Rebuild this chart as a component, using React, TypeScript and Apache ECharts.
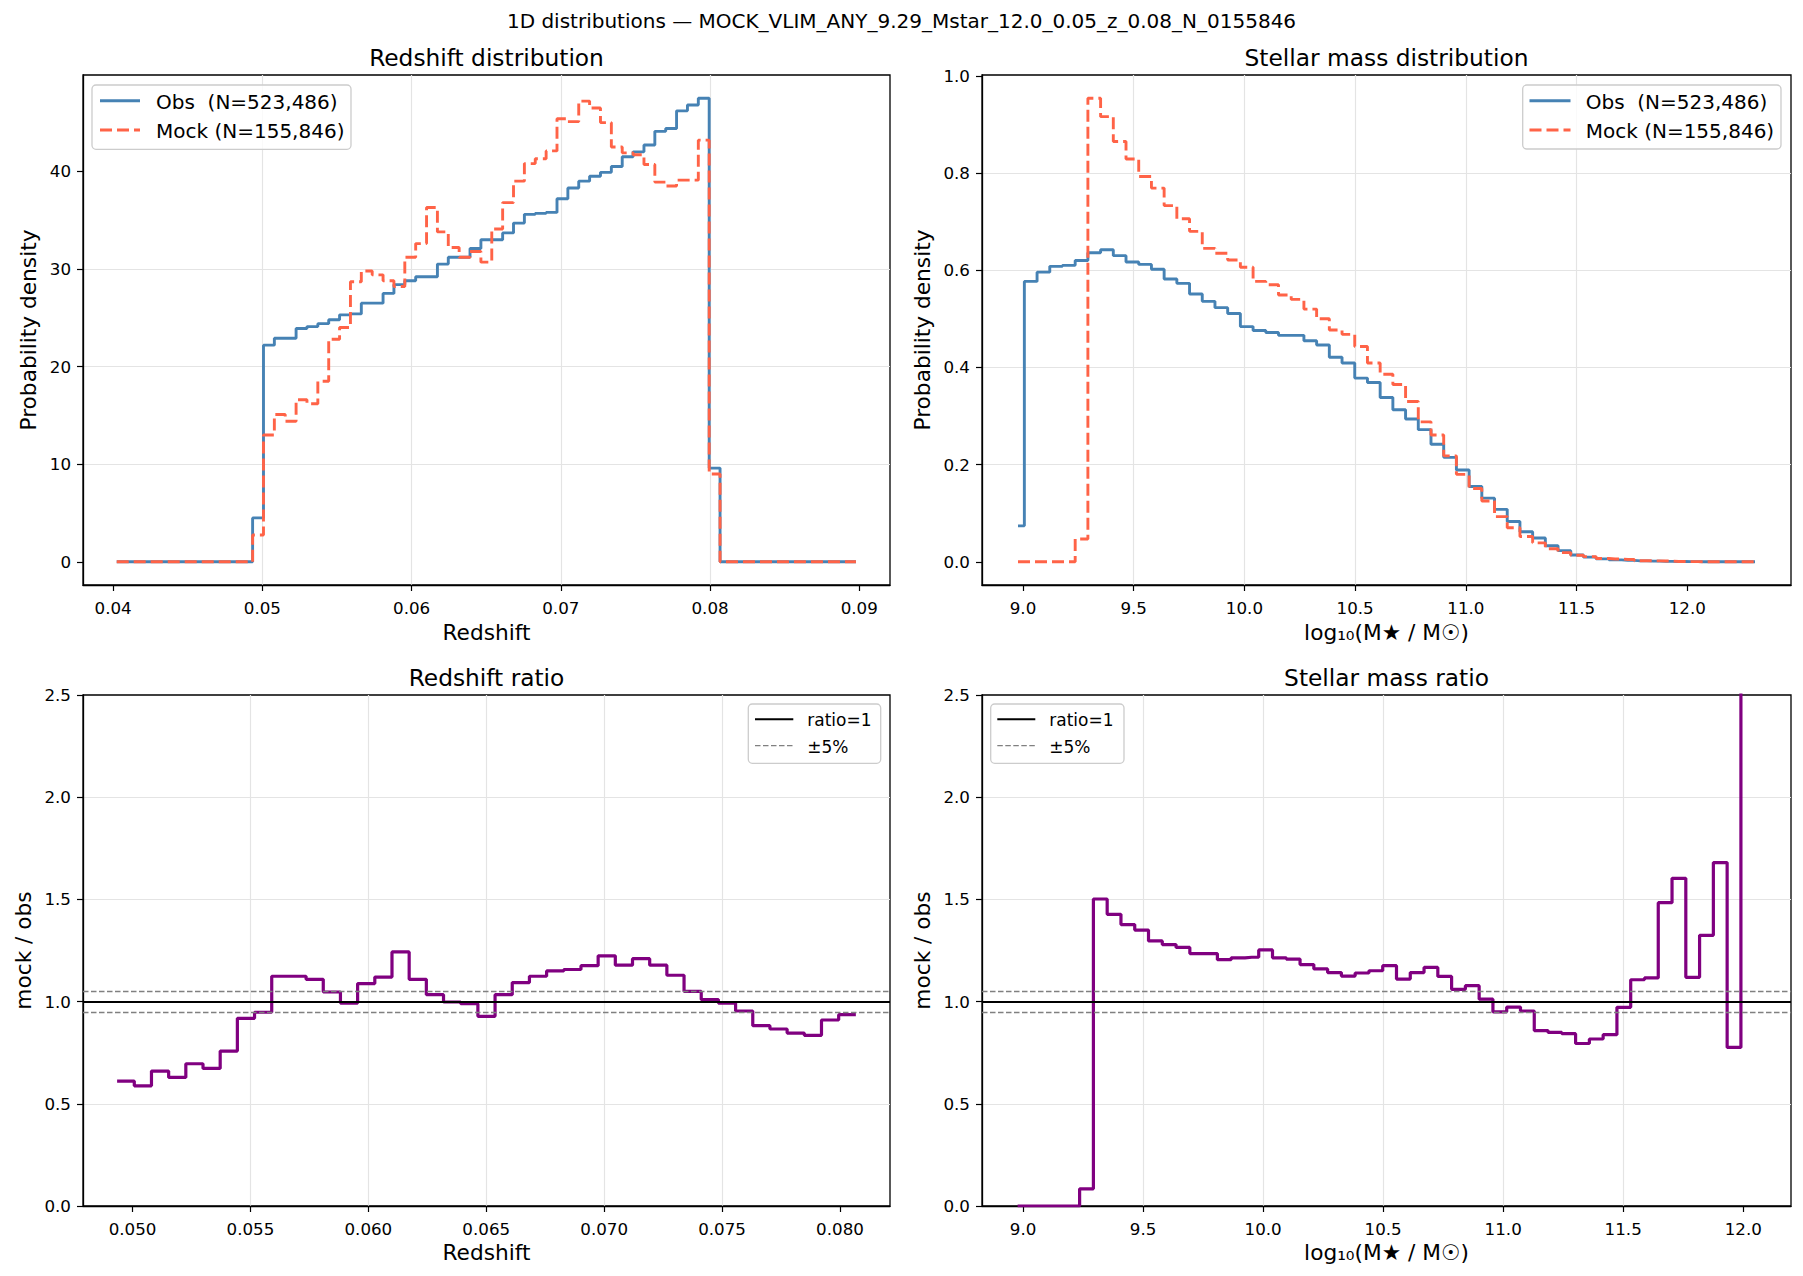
import React, { useEffect, useRef } from "react";
import * as echarts from "echarts";

// ---------------- texts ----------------
const SUPTITLE = "1D distributions — MOCK_VLIM_ANY_9.29_Mstar_12.0_0.05_z_0.08_N_0155846";
const OBS_LABEL = "Obs  (N=523,486)";
const MOCK_LABEL = "Mock (N=155,846)";
const MASS_LABEL = "log₁₀(M★ / M☉)";

// ---------------- redshift histogram (bin centres: first centre + k * width) ----------------
const Z_FIRST_CENTER = 0.04024;
const Z_BIN_WIDTH = 0.0007285;
const obsZ = [
  0, 0, 0, 0, 0, 0, 0, 0, 0, 0, 0, 0, 0,
  4.5, 22.2, 22.9, 22.9, 23.9, 24.1, 24.4, 24.8, 25.3, 25.4,
  26.5, 26.5, 27.5, 28.4, 28.8, 29.2, 29.2, 30.5, 31.2, 31.2,
  32.1, 33.0, 33.0, 33.7, 34.7, 35.6, 35.7, 35.8, 37.2, 38.3,
  39.0, 39.5, 39.9, 40.5, 41.5, 42.0, 42.7, 44.1, 44.4, 46.2,
  46.8, 47.5, 9.6,
  0, 0, 0, 0, 0, 0, 0, 0, 0, 0, 0, 0, 0,
];
const mockZ = [
  0, 0, 0, 0, 0, 0, 0, 0, 0, 0, 0, 0, 0,
  2.75, 13.0, 15.1, 14.4, 16.6, 16.2, 18.5, 22.8, 24.0, 28.7,
  29.8, 29.4, 28.8, 28.2, 31.2, 32.6, 36.3, 33.8, 32.2, 31.2,
  31.8, 30.7, 34.1, 36.8, 39.0, 40.8, 41.3, 42.1, 45.4, 45.1,
  47.2, 46.5, 45.0, 42.5, 41.9, 41.7, 40.7, 38.9, 38.5, 39.1,
  39.1, 43.2, 9.0,
  0, 0, 0, 0, 0, 0, 0, 0, 0, 0, 0, 0, 0,
];
// ratio, bins 13..55 of the redshift histogram
const RATIO_Z_FIRST_BIN = 13;
const ratioZ = [
  0.611, 0.588, 0.660, 0.629, 0.696, 0.673, 0.758, 0.918, 0.948, 1.124,
  1.124, 1.109, 1.047, 0.993, 1.088, 1.120, 1.243, 1.109, 1.034, 0.998,
  0.990, 0.928, 1.034, 1.093, 1.124, 1.150, 1.157, 1.176, 1.224, 1.178,
  1.210, 1.178, 1.129, 1.050, 1.010, 0.993, 0.954, 0.882, 0.866, 0.846,
  0.835, 0.910, 0.936,
];

// ---------------- stellar mass histogram ----------------
const M_FIRST_CENTER = 8.9774;
const M_BIN_WIDTH = 0.05739;
const obsM = [
  0.074, 0.577, 0.596, 0.608, 0.610, 0.620, 0.636, 0.642, 0.630, 0.617,
  0.612, 0.602, 0.582, 0.573, 0.551, 0.536, 0.523, 0.511, 0.484, 0.476,
  0.472, 0.466, 0.466, 0.455, 0.446, 0.421, 0.409, 0.378, 0.369, 0.338,
  0.313, 0.294, 0.272, 0.242, 0.215, 0.189, 0.155, 0.131, 0.108, 0.083,
  0.062, 0.049, 0.033, 0.023, 0.014, 0.0096, 0.006, 0.004, 0.003, 0.002,
  0.0015, 0.001, 0.0008, 0.0004, 0.0002, 0.0001, 0.0001, 0, 0,
];
const mockM = [
  0, 0, 0, 0, 0, 0.047, 0.954, 0.916, 0.865, 0.829,
  0.793, 0.769, 0.733, 0.706, 0.680, 0.645, 0.635, 0.621, 0.606, 0.577,
  0.570, 0.549, 0.540, 0.520, 0.500, 0.477, 0.468, 0.443, 0.409, 0.386,
  0.365, 0.330, 0.288, 0.261, 0.218, 0.180, 0.151, 0.125, 0.093, 0.070,
  0.052, 0.039, 0.027, 0.019, 0.0136, 0.0106, 0.0067, 0.0059, 0.0048, 0.0022,
  0.002, 0.0017, 0.0006, 0.0005, 0.0001, 0, 0, 0, 0,
];
const ratioM = [
  0, 0, 0, 0, 0, 0.084, 1.502, 1.427, 1.377, 1.350,
  1.297, 1.279, 1.265, 1.235, 1.235, 1.205, 1.214, 1.217, 1.253, 1.214,
  1.208, 1.181, 1.160, 1.142, 1.125, 1.140, 1.151, 1.176, 1.110, 1.142,
  1.167, 1.123, 1.060, 1.078, 1.012, 0.950, 0.973, 0.954, 0.858, 0.849,
  0.843, 0.795, 0.817, 0.838, 0.972, 1.107, 1.116, 1.484, 1.603, 1.119,
  1.324, 1.680, 0.776, 3.2,
];

// ---------------- ticks ----------------
const zTicksTop = [0.04, 0.05, 0.06, 0.07, 0.08, 0.09];
const zTicksRatio = [0.05, 0.055, 0.06, 0.065, 0.07, 0.075, 0.08];
const mTicks = [9.0, 9.5, 10.0, 10.5, 11.0, 11.5, 12.0];
const densZTicks = [0, 10, 20, 30, 40];
const densMTicks = [0, 0.2, 0.4, 0.6, 0.8, 1.0];
const REF_ONE = 1;
const REF_BAND = [1.05, 0.95];

const FONT = "DejaVu Sans";
const C_OBS = "#4682B4";
const C_MOCK = "#FF6347";
const C_RATIO = "#800080";
const W_DIST = 2.9;
const W_RATIO = 3.2;
const NAME_SIZE = 21.7;

function xAxisCfg(gridIndex: number, min: number, max: number, ticks: number[], digits: number, name: string, nameGap: number) {
  return {
    type: "value", gridIndex, min, max, name, nameLocation: "middle", nameGap,
    nameTextStyle: { fontSize: NAME_SIZE, color: "#000", fontFamily: FONT },
    axisLine: { show: true, onZero: false, lineStyle: { color: "#000", width: 1.3 } },
    axisTick: { show: true, inside: false, length: 6, customValues: ticks, lineStyle: { color: "#000", width: 1.2 } },
    axisLabel: { show: true, margin: 14, customValues: ticks, formatter: (v: number) => v.toFixed(digits), fontSize: 16.7, color: "#000", fontFamily: FONT },
    splitLine: { show: true, showMinLine: false, showMaxLine: false, lineStyle: { color: "#e4e4e4", width: 1.2 } },
  };
}
function yAxisCfg(gridIndex: number, min: number, max: number, ticks: number[] | null, digits: number, name: string, nameGap: number) {
  const cfg: any = {
    type: "value", gridIndex, min, max, name, nameLocation: "middle", nameGap,
    nameTextStyle: { fontSize: NAME_SIZE, color: "#000", fontFamily: FONT },
    axisLine: { show: true, onZero: false, lineStyle: { color: "#000", width: 1.3 } },
    axisTick: { show: true, inside: false, length: 6, lineStyle: { color: "#000", width: 1.2 } },
    axisLabel: { show: true, margin: 12, formatter: (v: number) => v.toFixed(digits), fontSize: 16.7, color: "#000", fontFamily: FONT },
    splitLine: { show: true, showMinLine: false, showMaxLine: false, lineStyle: { color: "#e4e4e4", width: 1.2 } },
  };
  if (ticks) {
    cfg.axisTick.customValues = ticks;
    cfg.axisLabel.customValues = ticks;
  } else {
    cfg.interval = 0.5;
  }
  return cfg;
}

function legendGraphics(box: number[], lineX: number[], textX: number, rows: { y: number; ty: number; text: string; stroke: string; width: number; dash: number[] | null }[], fontSize: number) {
  const els: any[] = [
    { type: "rect", z: 100, shape: { x: box[0], y: box[1], width: box[2], height: box[3], r: 4 }, style: { fill: "rgba(255,255,255,0.8)", stroke: "#cccccc", lineWidth: 1.3 } },
  ];
  rows.forEach((r) => {
    els.push({ type: "line", z: 101, shape: { x1: lineX[0], y1: r.y, x2: lineX[1], y2: r.y }, style: { stroke: r.stroke, lineWidth: r.width, lineDash: r.dash || undefined } });
    els.push({ type: "text", z: 101, x: textX, y: r.ty, style: { text: r.text, fontSize, fontFamily: FONT, fill: "#000", align: "left", verticalAlign: "middle" } });
  });
  return els;
}

function titleText(x: number, y: number, text: string, size: number) {
  return { type: "text", z: 100, x, y, style: { text, fontSize: size, fontFamily: FONT, fill: "#000", align: "center", verticalAlign: "middle" } };
}

export default function App() {
  const ref = useRef<HTMLDivElement>(null);
  useEffect(() => {
    if (!ref.current) return;
    const chart = echarts.init(ref.current, null, { renderer: "svg" });

    const zCenter = (k: number) => Z_FIRST_CENTER + k * Z_BIN_WIDTH;
    const zEdge = (k: number) => Z_FIRST_CENTER + (k + 0.5) * Z_BIN_WIDTH;
    const mCenter = (k: number) => M_FIRST_CENTER + k * M_BIN_WIDTH;

    const ratioZData: number[][] = ratioZ.map((r, i) => [zEdge(RATIO_Z_FIRST_BIN - 1 + i), r]);
    ratioZData.push([zEdge(RATIO_Z_FIRST_BIN - 1 + ratioZ.length), ratioZ[ratioZ.length - 1]]);

    const refLines = {
      silent: true, symbol: ["none", "none"], animation: false, label: { show: false },
      emphasis: { disabled: true },
      data: [
        { yAxis: REF_BAND[0], lineStyle: { color: "#808080", width: 1.3, type: [5.5, 2.5] } },
        { yAxis: REF_BAND[1], lineStyle: { color: "#808080", width: 1.3, type: [5.5, 2.5] } },
        { yAxis: REF_ONE, lineStyle: { color: "#000000", width: 2, type: "solid" } },
      ],
    };

    const gridBase = { show: true, borderColor: "#000", borderWidth: 1.3, backgroundColor: "transparent", containLabel: false };

    const option: any = {
      animation: false,
      backgroundColor: "#ffffff",
      textStyle: { fontFamily: FONT },
      grid: [
        { ...gridBase, left: 83, top: 75, width: 807, height: 510 },
        { ...gridBase, left: 982, top: 75, width: 809, height: 510 },
        { ...gridBase, left: 83, top: 695, width: 807, height: 511 },
        { ...gridBase, left: 982, top: 695, width: 809, height: 511 },
      ],
      xAxis: [
        xAxisCfg(0, 0.03798, 0.09206, zTicksTop, 2, "Redshift", 36),
        xAxisCfg(1, 8.8148, 12.4685, mTicks, 1, MASS_LABEL, 36),
        xAxisCfg(2, 0.0479, 0.08212, zTicksRatio, 3, "Redshift", 35),
        xAxisCfg(3, 8.829, 12.199, mTicks, 1, MASS_LABEL, 35),
      ],
      yAxis: [
        yAxisCfg(0, -2.375, 49.875, densZTicks, 0, "Probability density", 44),
        yAxisCfg(1, -0.0477, 1.0017, densMTicks, 1, "Probability density", 49),
        yAxisCfg(2, 0, 2.5, null, 1, "mock / obs", 49),
        yAxisCfg(3, 0, 2.5, null, 1, "mock / obs", 49),
      ],
      series: [
        {
          type: "line", name: OBS_LABEL, xAxisIndex: 0, yAxisIndex: 0, step: "middle", symbol: "none", showSymbol: false, silent: true,
          data: obsZ.map((v, k) => [zCenter(k), v]),
          lineStyle: { color: C_OBS, width: W_DIST }, itemStyle: { color: C_OBS }, z: 3,
        },
        {
          type: "line", name: MOCK_LABEL, xAxisIndex: 0, yAxisIndex: 0, step: "middle", symbol: "none", showSymbol: false, silent: true,
          data: mockZ.map((v, k) => [zCenter(k), v]),
          lineStyle: { color: C_MOCK, width: W_DIST, type: [12, 5] }, itemStyle: { color: C_MOCK }, z: 4,
        },
        {
          type: "line", name: OBS_LABEL, xAxisIndex: 1, yAxisIndex: 1, step: "middle", symbol: "none", showSymbol: false, silent: true,
          data: obsM.map((v, k) => [mCenter(k), v]),
          lineStyle: { color: C_OBS, width: W_DIST }, itemStyle: { color: C_OBS }, z: 3,
        },
        {
          type: "line", name: MOCK_LABEL, xAxisIndex: 1, yAxisIndex: 1, step: "middle", symbol: "none", showSymbol: false, silent: true,
          data: mockM.map((v, k) => [mCenter(k), v]),
          lineStyle: { color: C_MOCK, width: W_DIST, type: [12, 5] }, itemStyle: { color: C_MOCK }, z: 4,
        },
        {
          type: "line", name: "Redshift ratio", xAxisIndex: 2, yAxisIndex: 2, step: "end", symbol: "none", showSymbol: false, silent: true,
          data: ratioZData,
          lineStyle: { color: C_RATIO, width: W_RATIO }, itemStyle: { color: C_RATIO }, z: 3,
          markLine: refLines,
        },
        {
          type: "line", name: "Stellar mass ratio", xAxisIndex: 3, yAxisIndex: 3, step: "middle", symbol: "none", showSymbol: false, silent: true,
          data: ratioM.map((v, k) => [mCenter(k), v]),
          lineStyle: { color: C_RATIO, width: W_RATIO }, itemStyle: { color: C_RATIO }, z: 3,
          markLine: refLines,
        },
      ],
      graphic: [
        titleText(901.5, 21, SUPTITLE, 20),
        titleText(486.5, 57, "Redshift distribution", 23.3),
        titleText(1386.5, 57, "Stellar mass distribution", 23.3),
        titleText(486.5, 677.5, "Redshift ratio", 23.3),
        titleText(1386.5, 677.5, "Stellar mass ratio", 23.3),
        ...legendGraphics([92, 85, 259, 64.3], [100, 140], 156, [
          { y: 100.7, ty: 102, text: OBS_LABEL, stroke: C_OBS, width: W_DIST, dash: null },
          { y: 130, ty: 131, text: MOCK_LABEL, stroke: C_MOCK, width: W_DIST, dash: [12, 5] },
        ], 20),
        ...legendGraphics([1522.7, 85, 258.3, 64], [1529.5, 1570.5], 1585.7, [
          { y: 100.7, ty: 102, text: OBS_LABEL, stroke: C_OBS, width: W_DIST, dash: null },
          { y: 130, ty: 131, text: MOCK_LABEL, stroke: C_MOCK, width: W_DIST, dash: [12, 5] },
        ], 20),
        ...legendGraphics([748.3, 704, 132.4, 59.3], [755, 793.3], 807.3, [
          { y: 719.3, ty: 720, text: "ratio=1", stroke: "#000", width: 2, dash: null },
          { y: 745.7, ty: 746.5, text: "±5%", stroke: "#808080", width: 1.3, dash: [5.5, 2.5] },
        ], 17),
        ...legendGraphics([990.7, 704, 133.3, 59.3], [997.3, 1035.3], 1049.3, [
          { y: 719.3, ty: 720, text: "ratio=1", stroke: "#000", width: 2, dash: null },
          { y: 745.7, ty: 746.5, text: "±5%", stroke: "#808080", width: 1.3, dash: [5.5, 2.5] },
        ], 17),
      ],
    };

    chart.setOption(option);
    return () => chart.dispose();
  }, []);

  return (
    <div
      ref={ref}
      style={{ position: "fixed", left: 0, top: 0, width: "1803px", height: "1276px", background: "#fff" }}
    />
  );
}
